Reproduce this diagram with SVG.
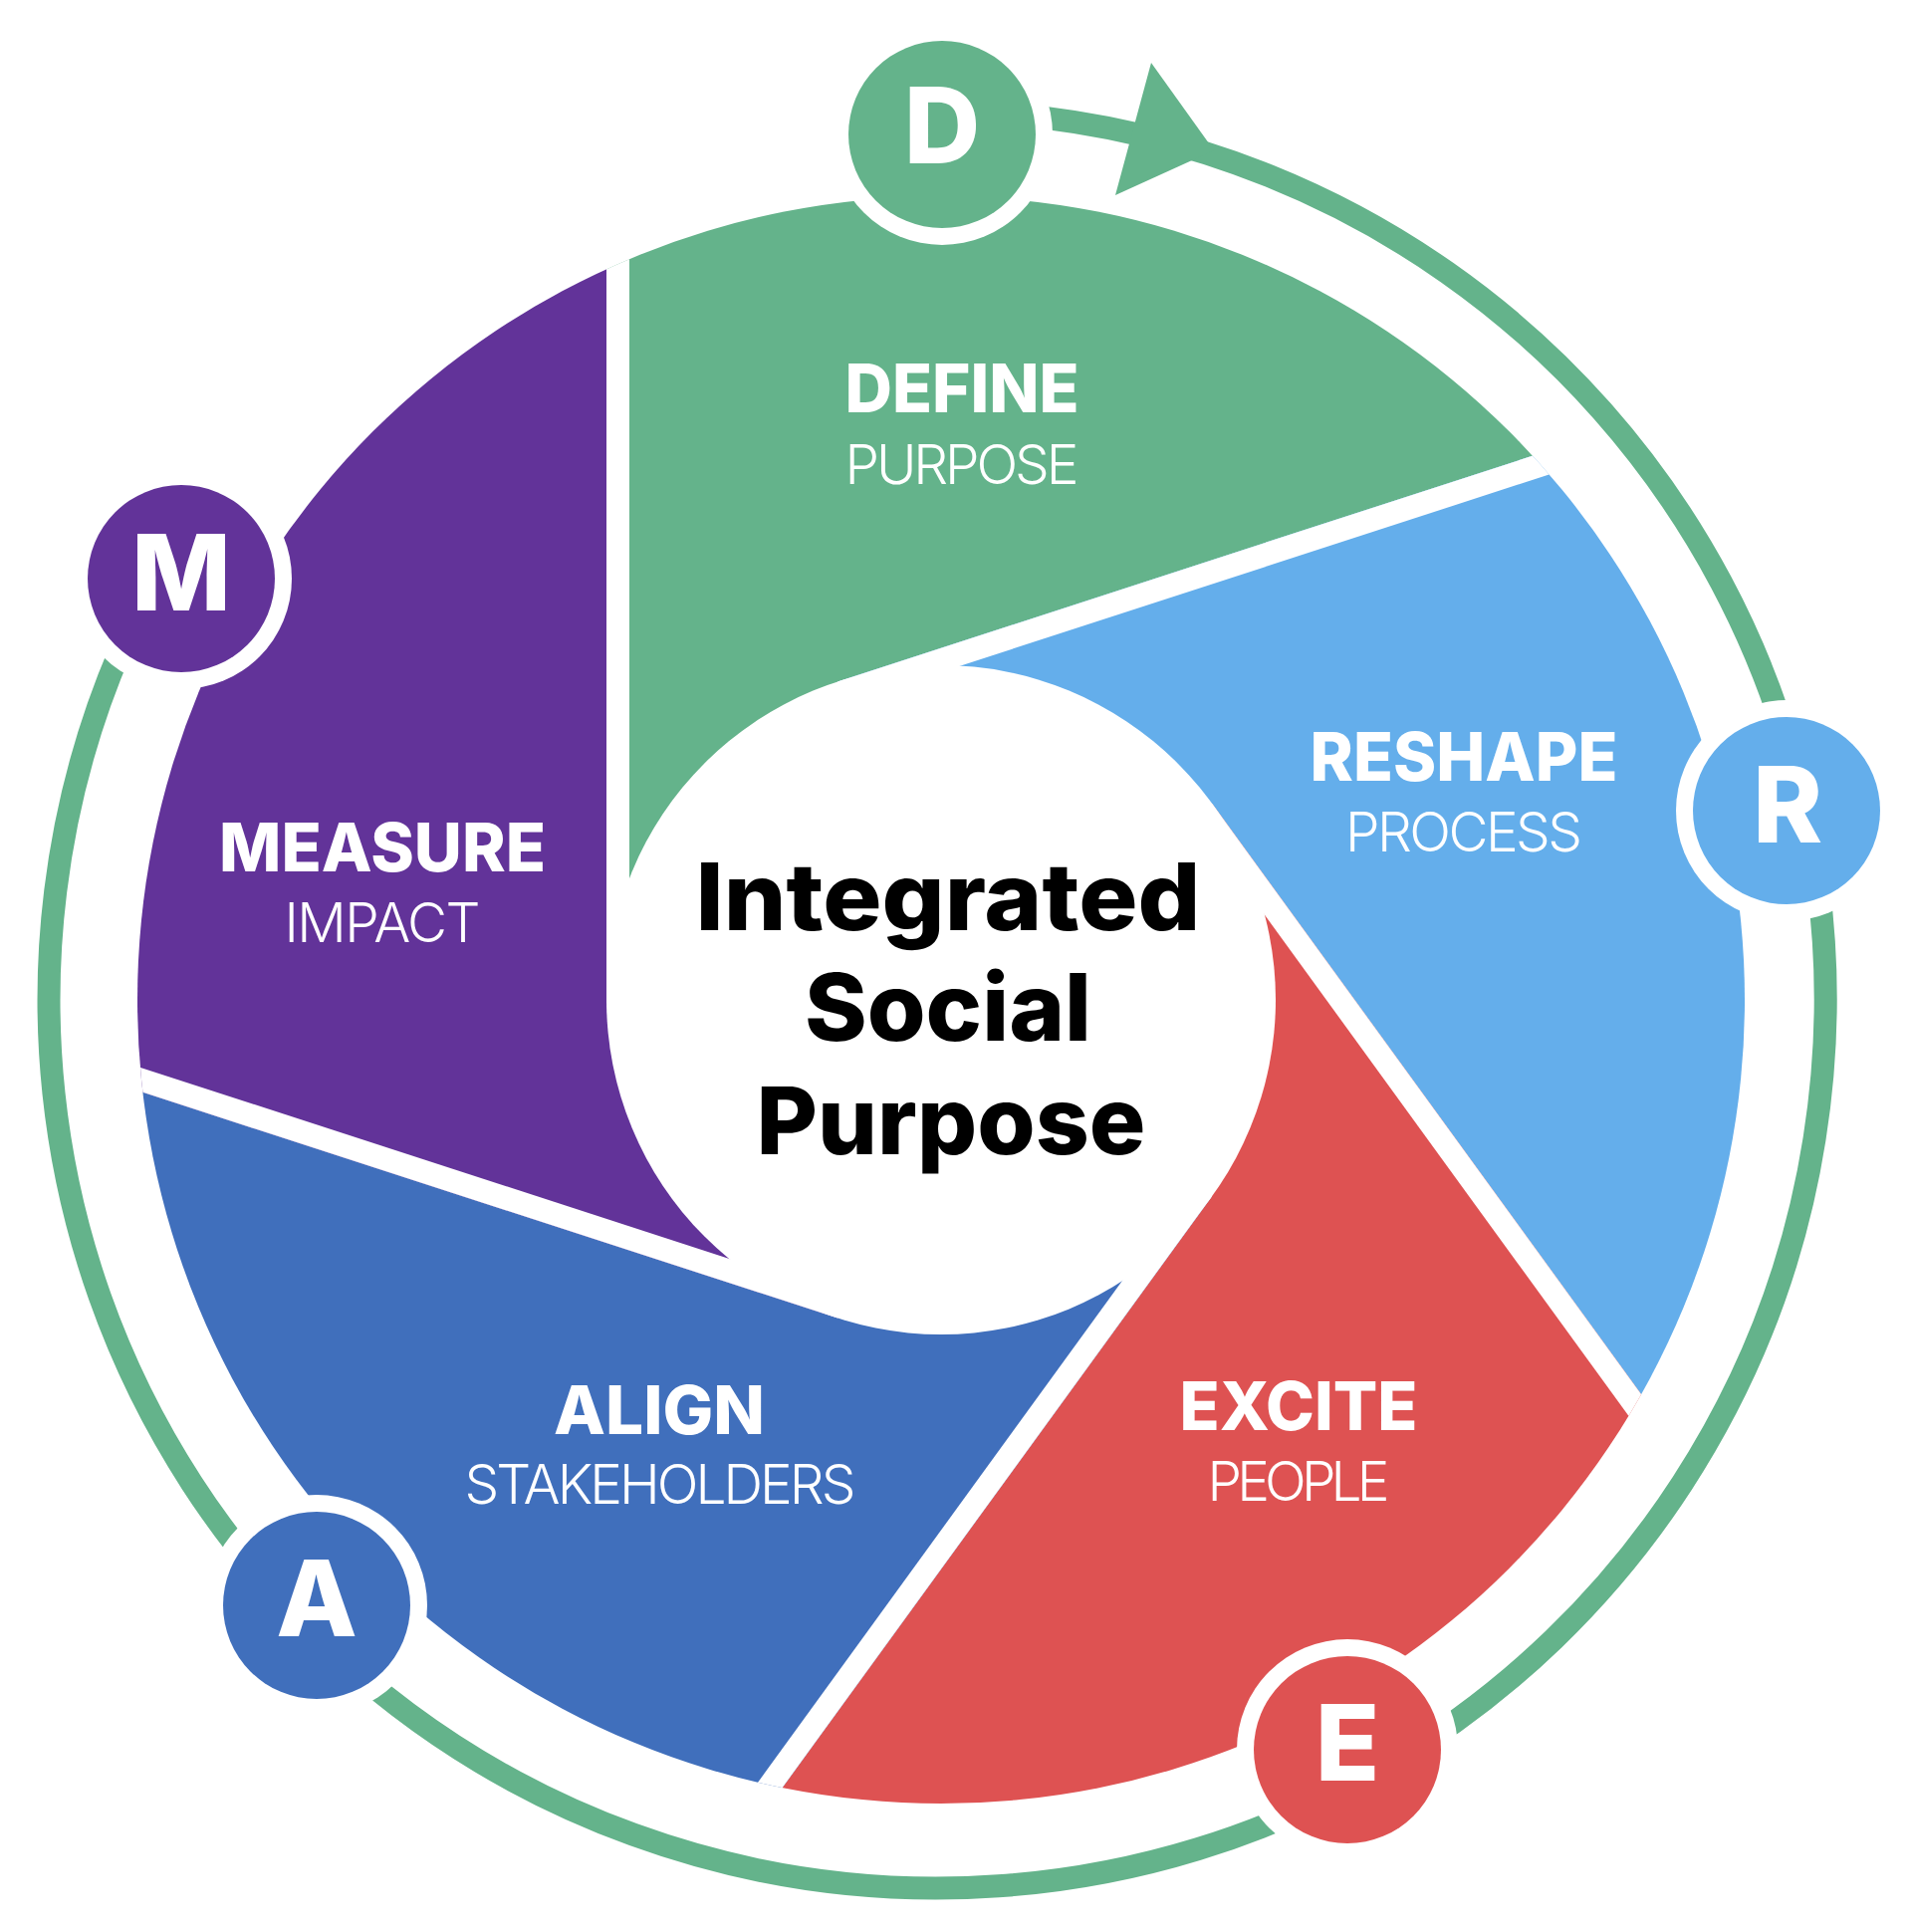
<svg xmlns="http://www.w3.org/2000/svg" width="1920" height="1940" viewBox="0 0 1920 1940">
<style>
.bg{fill:#ffffff}
.ring{fill:none;stroke:#64B38B;stroke-width:23}
.green{fill:#64B38B}
.lblue{fill:#64AEEB}
.red{fill:#DE5252}
.dblue{fill:#406FBC}
.purple{fill:#623399}
.gap{stroke:#ffffff;stroke-width:23;fill:none}
.white{fill:#ffffff}
.title{font-family:Inter,"Noto Sans","Liberation Sans",sans-serif;font-weight:800;fill:#ffffff;text-anchor:middle}
.sub{font-family:Inter,"Noto Sans","Liberation Sans",sans-serif;font-weight:300;fill:#ffffff;text-anchor:middle}
.letter{font-family:Inter,"Noto Sans","Liberation Sans",sans-serif;font-weight:800;fill:#ffffff;text-anchor:middle;font-size:106px}
.center{font-family:Inter,"Noto Sans","Liberation Sans",sans-serif;font-weight:800;fill:#000000;text-anchor:middle;font-size:94px}
</style>
<defs>
<clipPath id="disk"><circle cx="945" cy="1004" r="807"/></clipPath>
</defs>
<rect class="bg" x="0" y="0" width="1920" height="1940"/>

<g id="connectors">
<path class="ring" d="M 909.9 112.5 A 892 892 0 1 1 176.4 544.6"/>
<polygon class="green" points="1156,63 1219,151 1120,196"/>
</g>

<g id="segments" clip-path="url(#disk)">
<g id="seg-define"><polygon class="green" points="945,1004 609,1004 609,-296 2077.55,282.71 841.17,684.44"/></g>
<g id="seg-reshape"><polygon class="lblue" points="945,1004 841.17,684.44 2077.55,282.71 1980.96,1858.23 1216.83,806.5"/></g>
<g id="seg-excite"><polygon class="red" points="945,1004 1216.83,806.5 1980.96,1858.23 452.7,2253.23 1216.83,1201.5"/></g>
<g id="seg-align"><polygon class="dblue" points="945,1004 1216.83,1201.5 452.7,2253.23 -395.21,921.83 841.17,1323.56"/></g>
<g id="seg-measure"><polygon class="purple" points="945,1004 841.17,1323.56 -395.21,921.83 609,-296 609,1004"/></g>
<g id="gaps">
<line class="gap" x1="620.5" y1="1004" x2="620.5" y2="4"/>
<line class="gap" x1="844.72" y1="695.38" x2="1795.78" y2="386.36"/>
<line class="gap" x1="1207.53" y1="813.26" x2="1795.32" y2="1622.28"/>
<line class="gap" x1="1207.53" y1="1194.74" x2="619.74" y2="2003.76"/>
<line class="gap" x1="844.72" y1="1312.62" x2="-106.34" y2="1003.6"/>
</g>
</g>

<g id="hub">
<circle class="white" cx="945" cy="1004" r="336"/>
<text class="center" x="952" y="934" textLength="507" lengthAdjust="spacingAndGlyphs">Integrated</text>
<text class="center" x="952" y="1045" textLength="288" lengthAdjust="spacingAndGlyphs">Social</text>
<text class="center" x="955" y="1159" textLength="391" lengthAdjust="spacingAndGlyphs">Purpose</text>
</g>

<g id="halos">
<circle class="white" cx="946" cy="135" r="111"/>
<circle class="white" cx="1794" cy="814" r="111"/>
<circle class="white" cx="1353" cy="1757" r="111"/>
<circle class="white" cx="318" cy="1612" r="111"/>
<circle class="white" cx="182" cy="581" r="111"/>
</g>

<g id="node-define">
<circle class="green" cx="946" cy="135" r="94"/>
<text class="letter" x="946" y="164">D</text>
<text class="title" x="966" y="414" font-size="68" textLength="235" lengthAdjust="spacingAndGlyphs">DEFINE</text>
<text class="sub" x="966" y="486" font-size="55" textLength="235">PURPOSE</text>
</g>
<g id="node-reshape">
<circle class="lblue" cx="1794" cy="814" r="94"/>
<text class="letter" x="1795" y="846">R</text>
<text class="title" x="1470" y="784" font-size="68" textLength="309" lengthAdjust="spacingAndGlyphs">RESHAPE</text>
<text class="sub" x="1470" y="855" font-size="55" textLength="238">PROCESS</text>
</g>
<g id="node-excite">
<circle class="red" cx="1353" cy="1757" r="94"/>
<text class="letter" x="1353" y="1788">E</text>
<text class="title" x="1304" y="1436" font-size="68" textLength="239" lengthAdjust="spacingAndGlyphs">EXCITE</text>
<text class="sub" x="1304" y="1507" font-size="55" textLength="183">PEOPLE</text>
</g>
<g id="node-align">
<circle class="dblue" cx="318" cy="1612" r="94"/>
<text class="letter" x="318" y="1643">A</text>
<text class="title" x="662" y="1440" font-size="68" textLength="212" lengthAdjust="spacingAndGlyphs">ALIGN</text>
<text class="sub" x="663" y="1510" font-size="55" textLength="393">STAKEHOLDERS</text>
</g>
<g id="node-measure">
<circle class="purple" cx="182" cy="581" r="94"/>
<text class="letter" x="182" y="613">M</text>
<text class="title" x="384" y="875" font-size="68" textLength="328" lengthAdjust="spacingAndGlyphs">MEASURE</text>
<text class="sub" x="384" y="946" font-size="55" textLength="197">IMPACT</text>
</g>
</svg>
